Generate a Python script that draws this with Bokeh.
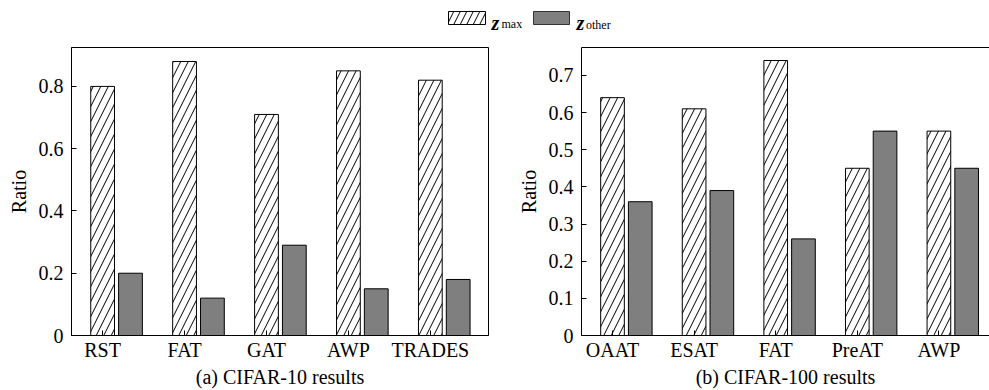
import numpy as np
from bokeh.plotting import figure
from bokeh.models import ColumnDataSource, FixedTicker, LinearAxis, Range1d
from bokeh.layouts import column, row
from bokeh.embed import file_html
from bokeh.resources import INLINE
from bokeh.core.properties import value

# ---- data ----
cifar10_methods = ["RST", "FAT", "GAT", "AWP", "TRADES"]
cifar10_zmax = [0.80, 0.88, 0.71, 0.85, 0.82]
cifar10_zother = [0.20, 0.12, 0.29, 0.15, 0.18]
cifar10_yticks = [0, 0.2, 0.4, 0.6, 0.8]

cifar100_methods = ["OAAT", "ESAT", "FAT", "PreAT", "AWP"]
cifar100_zmax = [0.64, 0.61, 0.74, 0.45, 0.55]
cifar100_zother = [0.36, 0.39, 0.26, 0.55, 0.45]
cifar100_yticks = [0, 0.1, 0.2, 0.3, 0.4, 0.5, 0.6, 0.7]

FONT = "Liberation Serif"
FS = "20px"
GREY = "#7f7f7f"
BAR_W = 0.29
OFFSET = 0.34
HATCH_SCALE = 15


def make_panel(methods, zmax, zother, yticks, ymax, title, width,
               border_left, border_right, xend, full_box):
    x = np.arange(len(methods))
    src = ColumnDataSource(dict(x=x, x2=x + OFFSET, zmax=zmax, zother=zother))
    p = figure(width=width, height=352, output_backend="svg", toolbar_location=None,
               tools="", x_range=Range1d(-0.38, xend), y_range=Range1d(0, ymax),
               min_border_left=border_left, min_border_right=border_right,
               min_border_top=9, min_border_bottom=54)
    p.vbar(x="x", top="zmax", width=BAR_W, source=src, fill_color="white",
           line_color="black", line_width=1, hatch_pattern="/", hatch_color="black",
           hatch_scale=HATCH_SCALE, hatch_weight=1)
    p.vbar(x="x2", top="zother", width=BAR_W, source=src, fill_color=GREY,
           line_color="black", line_width=1)
    p.grid.visible = False
    p.background_fill_color = "white"
    p.border_fill_color = "white"

    xa = p.below[0]
    xa.ticker = FixedTicker(ticks=list(x))
    xa.major_label_overrides = {int(i): m for i, m in zip(x, methods)}
    ya = p.left[0]
    ya.ticker = FixedTicker(ticks=yticks)
    ya.major_label_overrides = {0: "0"}
    for ax in (xa, ya):
        ax.major_tick_in = 5
        ax.major_tick_out = 0
        ax.minor_tick_line_color = None
        ax.axis_line_color = "black"
        ax.major_tick_line_color = "black"
        ax.major_label_text_font = FONT
        ax.major_label_text_font_size = FS
        ax.major_label_text_color = "black"
        ax.axis_label_text_font = FONT
        ax.axis_label_text_font_size = FS
        ax.axis_label_text_font_style = "normal"
        ax.axis_label_text_color = "black"
    xa.major_label_standoff = 3
    ya.major_label_standoff = 8
    xa.axis_label = title
    xa.axis_label_standoff = 2
    ya.axis_label = "Ratio"
    ya.axis_label_standoff = 6

    if full_box:
        p.outline_line_color = "black"
        p.outline_line_width = 1
    else:
        p.outline_line_color = None
        top_axis = LinearAxis(major_tick_line_color=None, minor_tick_line_color=None,
                              major_label_text_font_size="0px", axis_line_color="black",
                              major_label_standoff=0, ticker=FixedTicker(ticks=[]))
        p.add_layout(top_axis, "above")
    return p


left = make_panel(cifar10_methods, cifar10_zmax, cifar10_zother, cifar10_yticks, 0.925,
                  "(a) CIFAR-10 results", 500, 71, 12, 4.71, True)
right = make_panel(cifar100_methods, cifar100_zmax, cifar100_zother, cifar100_yticks, 0.775,
                   "(b) CIFAR-100 results", 489, 81, 0, 4.62, False)

# ---- legend strip ----
leg = figure(width=989, height=38, output_backend="svg", toolbar_location=None, tools="",
             x_range=Range1d(0, 989), y_range=Range1d(38, 0),
             min_border=0)
leg.axis.visible = False
leg.grid.visible = False
leg.outline_line_color = None
leg.quad(left=[448], right=[485], top=[11], bottom=[24], fill_color="white",
         line_color="black", hatch_pattern="/", hatch_color="black",
         hatch_scale=13, hatch_weight=1)
leg.quad(left=[533], right=[569], top=[11], bottom=[24], fill_color=GREY,
         line_color="#333333")
leg.text(x=[491, 576], y=[22.7, 22.7], text=["z", "z"], text_font=value(FONT),
         text_font_size="20px", text_font_style="bold italic", text_color="black",
         text_baseline="alphabetic", text_align="left")
leg.text(x=[501, 585.5], y=[23.3, 24.7], text=["max", "other"], text_font=value(FONT),
         text_font_size="12px", text_color="black",
         text_baseline="alphabetic", text_align="left")

layout = column(leg, row(left, right))
open("out.html", "w").write(file_html(layout, INLINE))
